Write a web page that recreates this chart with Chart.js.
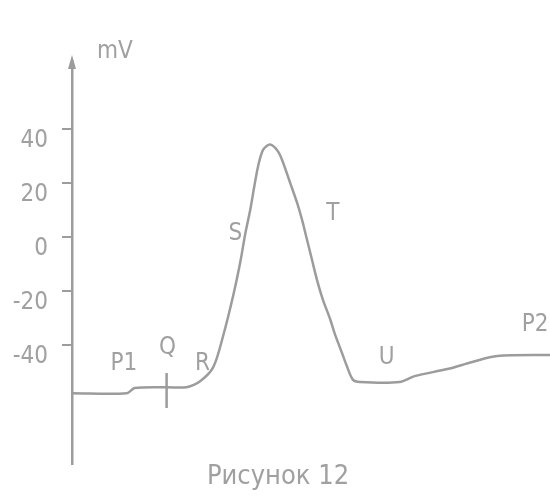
<!DOCTYPE html>
<html><head><meta charset="utf-8">
<script src="https://cdn.jsdelivr.net/npm/chart.js@4"></script>
<style>html,body{margin:0;padding:0;background:#fff}</style>
</head><body>
<canvas id="c" width="550" height="500"></canvas>
<script>
// time (arbitrary units) and membrane potential (mV)
const times = [0, 5.5, 6.3, 9.5, 11.5, 12.9, 14.2, 15.2, 16.2, 16.9, 17.4, 17.9, 18.3, 18.7, 19.2, 19.9, 20.7, 21.2, 21.9, 22.6, 23.1, 23.6, 24.1, 24.6, 25.2, 25.9, 26.4, 27.1, 27.6, 28.2, 28.9, 32.9, 34.4, 37.7, 40.2, 42.7, 48];
const potentials = [-57.8, -57.8, -55.9, -55.6, -55.6, -53.3, -48.1, -36.3, -21.5, -9.3, 1.1, 10, 18.5, 26.3, 32.2, 34.1, 31.5, 27.4, 20, 12.6, 6.3, -1.1, -8.5, -15.9, -23.3, -30.2, -36.0, -42.8, -47.8, -52.8, -53.7, -53.7, -51.5, -48.9, -46.3, -44.1, -43.7];
const yTicks = [40, 20, 0, -20, -40];
const pointLabels = ['P1', 'Q', 'R', 'S', 'T', 'U', 'P2'];
const labelTimes = [5.2, 9.6, 13.1, 16.4, 26.2, 31.6, 46.5];
const labelPotentials = [-47, -41, -47, 1, 8.5, -44.8, -32.6];
const markerTimes = [9.5, 9.5];
const markerPotentials = [-50.4, -63.3];
const unitLabel = 'mV';
const unitTime = 4.3, unitPotential = 68.5;
const caption = 'Рисунок 12';

const GRAY = '#9c9c9c';
const TEXT = '#a0a0a0';
const FONT = '"Liberation Sans Narrow", "DejaVu Sans Condensed", "Liberation Sans", sans-serif';

const overlay = {
  id: 'overlay',
  afterDatasetsDraw(chart) {
    const ctx = chart.ctx, xs = chart.scales.x, ys = chart.scales.y, ca = chart.chartArea;
    ctx.save();
    ctx.fillStyle = GRAY;
    ctx.beginPath();
    ctx.moveTo(ca.left, ca.top - 6);
    ctx.lineTo(ca.left - 4, ca.top + 8);
    ctx.lineTo(ca.left + 4, ca.top + 8);
    ctx.closePath();
    ctx.fill();
    ctx.fillStyle = TEXT;
    ctx.textAlign = 'center';
    ctx.textBaseline = 'middle';
    ctx.font = '24px ' + FONT;
    pointLabels.forEach((t, i) => {
      ctx.fillText(t, xs.getPixelForValue(labelTimes[i]), ys.getPixelForValue(labelPotentials[i]));
    });
    ctx.fillText(unitLabel, xs.getPixelForValue(unitTime), ys.getPixelForValue(unitPotential));
    ctx.font = '27px ' + FONT;
    ctx.fillText(caption, 278, 477);
    ctx.restore();
  }
};

new Chart(document.getElementById('c'), {
  type: 'line',
  data: {
    datasets: [
      {
        data: times.map((t, i) => ({ x: t, y: potentials[i] })),
        borderColor: GRAY, borderWidth: 2.5, pointRadius: 0, fill: false,
        tension: 0.3
      },
      {
        data: markerTimes.map((t, i) => ({ x: t, y: markerPotentials[i] })),
        borderColor: GRAY, borderWidth: 2.5, pointRadius: 0, fill: false
      }
    ]
  },
  options: {
    responsive: false,
    animation: false,
    layout: { padding: { top: 61, bottom: 36, left: 0, right: 0 } },
    plugins: { legend: { display: false }, tooltip: { enabled: false }, title: { display: false } },
    scales: {
      x: { type: 'linear', min: 0, max: 48, display: false },
      y: {
        type: 'linear', min: -84, max: 65, position: 'left',
        afterBuildTicks: s => { s.ticks = yTicks.map(v => ({ value: v })); },
        afterFit: s => { s.width = 72; },
        ticks: { color: TEXT, font: { size: 24, family: FONT }, padding: 14, labelOffset: 12 },
        grid: { drawOnChartArea: false, drawTicks: true, tickLength: 10, color: GRAY, lineWidth: 2 },
        border: { display: true, color: GRAY, width: 2.5 }
      }
    }
  },
  plugins: [overlay]
});
</script>
</body></html>
